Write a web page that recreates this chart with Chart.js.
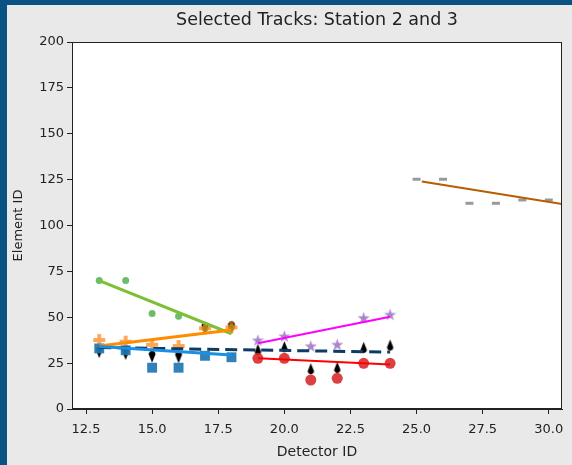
<!DOCTYPE html>
<html><head><meta charset="utf-8">
<script src="https://cdn.jsdelivr.net/npm/chart.js@4"></script>
<style>html,body{margin:0;padding:0;background:#0a5282;overflow:hidden}canvas{display:block}</style>
</head><body>
<canvas id="c" width="572" height="465" style="width:572px;height:465px"></canvas>
<script>
// ---- data ----
const xTicks = [12.5, 15, 17.5, 20, 22.5, 25, 27.5, 30];
const yTicks = [0, 25, 50, 75, 100, 125, 150, 175, 200];

const st2X = [13, 14, 15, 16, 17, 18];
const st3X = [19, 20, 21, 22, 23, 24];
const st4X = [25, 26, 27, 28, 29, 30];

const greenY  = [70, 70, 52, 50.5, 44, 44.5];
const orangeY = [37.6, 36.7, 35, 34.3, 44, 44.5];
const blueY   = [33, 32, 22.5, 22.5, 29, 28.2];
const blackAY = [31, 30, 28.5, 28.2, 44, 44.5];
const blackBY = [32.5, 34, 22, 22.7, 33.6, 34.9];
const redY    = [27.6, 27.6, 15.8, 16.7, 24.9, 24.9];
const purpleY = [37.2, 39.4, 34, 34.9, 49.4, 51.2];
const grayY   = [125.2, 125.2, 112.1, 112.1, 113.9, 113.9];

// fitted track lines (end points)
const greenFitX = [13, 18],   greenFitY = [70, 41];
const orangeFitX = [13, 18],  orangeFitY = [34.3, 43];
const blueFitX = [13, 18],    blueFitY = [34, 29.4];
const dashFitX = [13, 24],    dashFitY = [33.5, 31];
const redFitX = [19, 24],     redFitY = [27.6, 24.2];
const magentaFitX = [19, 24], magentaFitY = [35.8, 50.3];
const brownFitX = [25.2, 30.5], brownFitY = [124, 111.7];

// ---- helpers ----
const FONT = 'DejaVu Sans';
const pts = (xs, ys) => xs.map((x, i) => ({x: x, y: ys[i]}));

function starImg(color, r) {
  const c = document.createElement('canvas');
  const s = Math.ceil(2 * r + 2); c.width = s; c.height = s;
  const g = c.getContext('2d'); g.fillStyle = color; g.beginPath();
  for (let i = 0; i < 10; i++) {
    const rr = i % 2 ? r * 0.382 : r;
    const a = -Math.PI / 2 + i * Math.PI / 5;
    const px = s / 2 + rr * Math.cos(a), py = s / 2 + rr * Math.sin(a);
    i ? g.lineTo(px, py) : g.moveTo(px, py);
  }
  g.closePath(); g.fill(); return c;
}
function plusImg(color, r, w) {
  const c = document.createElement('canvas');
  const s = Math.ceil(2 * r + 2); c.width = s; c.height = s;
  const g = c.getContext('2d'); g.fillStyle = color; g.beginPath();
  const m = s / 2, h = w / 2;
  g.moveTo(m - h, m - r); g.lineTo(m + h, m - r); g.lineTo(m + h, m - h); g.lineTo(m + r, m - h);
  g.lineTo(m + r, m + h); g.lineTo(m + h, m + h); g.lineTo(m + h, m + r); g.lineTo(m - h, m + r);
  g.lineTo(m - h, m + h); g.lineTo(m - r, m + h); g.lineTo(m - r, m - h); g.lineTo(m - h, m - h);
  g.closePath(); g.fill(); return c;
}
function dropImg(color, r, up) {
  const c = document.createElement('canvas');
  const s = Math.ceil(2 * r + 2); c.width = s; c.height = s;
  const g = c.getContext('2d'); g.fillStyle = color;
  g.translate(s / 2, s / 2); if (!up) g.rotate(Math.PI);
  const cr = r * 0.55;
  g.beginPath(); g.moveTo(0, -r);
  g.lineTo(cr * 0.95, r - cr - 0.3 * cr);
  g.arc(0, r - cr, cr, -0.2 * Math.PI, 1.2 * Math.PI);
  g.closePath(); g.fill(); return c;
}

const markers = (xs, ys, opts) => Object.assign({
  type: 'scatter', data: pts(xs, ys), showLine: false, borderWidth: 0, order: 50
}, opts);
const fitLine = (xs, ys, color, width, extra) => Object.assign({
  type: 'scatter', data: pts(xs, ys), showLine: true, borderColor: color, borderWidth: width,
  pointRadius: 0, pointHoverRadius: 0, fill: false, order: 5
}, extra || {});

const datasets = [
  markers(st2X, blackAY, {pointStyle: dropImg('#000', 6, false), order: 100}),
  markers(st3X, blackBY, {pointStyle: dropImg('#000', 5.5, true), order: 100}),
  markers(st2X, greenY, {pointStyle: 'circle', pointRadius: 3.5, backgroundColor: 'rgba(44,160,44,0.7)', order: 60}),
  markers(st2X, orangeY, {pointStyle: plusImg('rgba(255,127,14,0.7)', 6, 3.8), order: 55}),
  markers(st2X, blueY, {pointStyle: 'rect', pointRadius: 7, backgroundColor: 'rgba(31,119,180,0.92)', order: 50}),
  markers(st3X, redY, {pointStyle: 'circle', pointRadius: 5.5, backgroundColor: 'rgba(214,39,40,0.88)', order: 50}),
  markers(st3X, purpleY, {pointStyle: starImg('rgba(148,103,189,0.8)', 6.5), order: 50}),
  markers(st4X, grayY, {pointStyle: 'line', pointRadius: 4, borderWidth: 3, borderColor: 'rgba(127,127,127,0.8)', order: 50}),
  fitLine(greenFitX, greenFitY, '#7dbf35', 3, {order: 9}),
  fitLine(dashFitX, dashFitY, '#0d3b63', 3, {order: 8, borderDash: [12, 6]}),
  fitLine(orangeFitX, orangeFitY, '#ff8c00', 3, {order: 7}),
  fitLine(blueFitX, blueFitY, '#1a8fe3', 3, {order: 6}),
  fitLine(redFitX, redFitY, '#ff0000', 2, {order: 5}),
  fitLine(magentaFitX, magentaFitY, '#ff00ff', 2, {order: 4}),
  fitLine(brownFitX, brownFitY, '#b85c00', 2, {order: 3})
];

const frame = {
  id: 'frame',
  beforeDraw(chart) {
    const g = chart.ctx;
    g.save();
    g.fillStyle = '#0a5282'; g.fillRect(0, 0, chart.width, chart.height);
    g.fillStyle = '#e9e9e9'; g.fillRect(7, 5, chart.width - 7, chart.height - 5);
    const a = chart.chartArea;
    g.fillStyle = '#ffffff'; g.fillRect(a.left, a.top, a.right - a.left, a.bottom - a.top);
    g.restore();
  },
  afterDraw(chart) {
    const g = chart.ctx, a = chart.chartArea;
    g.save(); g.strokeStyle = '#222'; g.lineWidth = 1;
    g.strokeRect(a.left + 0.5, a.top + 0.5, a.right - a.left - 1, a.bottom - a.top - 1);
    g.restore();
  }
};

const tickFont = {family: FONT, size: 13};
new Chart(document.getElementById('c'), {
  type: 'scatter',
  data: {datasets: datasets},
  options: {
    responsive: false, animation: false, devicePixelRatio: 1,
    layout: {padding: {top: 0, right: 10, bottom: 0, left: 0}},
    plugins: {
      legend: {display: false}, tooltip: {enabled: false},
      title: {display: true, fullSize: false, text: 'Selected Tracks: Station 2 and 3', color: '#222',
              font: {family: FONT, size: 17.5, weight: 'normal'}, padding: {top: 9.5, bottom: 11.5}}
    },
    scales: {
      x: {
        type: 'linear', min: 11.97, max: 30.5,
        afterBuildTicks: s => { s.ticks = xTicks.map(v => ({value: v})); },
        afterFit: s => { s.height = 56; },
        grid: {drawOnChartArea: false, drawTicks: true, tickLength: 5, color: '#222'},
        border: {display: true, color: '#222', width: 1},
        ticks: {color: '#222', font: tickFont, padding: 8, maxRotation: 0, autoSkip: false,
                callback: v => Number(v).toFixed(1)},
        title: {display: true, text: 'Detector ID', color: '#222', font: {family: FONT, size: 14}, padding: {top: 0, bottom: 4}}
      },
      y: {
        type: 'linear', min: 0, max: 200,
        afterBuildTicks: s => { s.ticks = yTicks.map(v => ({value: v})); },
        afterFit: s => { s.width = 72; },
        grid: {drawOnChartArea: false, drawTicks: true, tickLength: 5, color: '#222'},
        border: {display: true, color: '#222', width: 1},
        ticks: {color: '#222', font: tickFont, padding: 3, autoSkip: false, callback: v => String(v)},
        title: {display: true, text: 'Element ID', color: '#222', font: tickFont, padding: {top: 11, bottom: 0}}
      }
    }
  },
  plugins: [frame]
});
</script>
</body></html>
